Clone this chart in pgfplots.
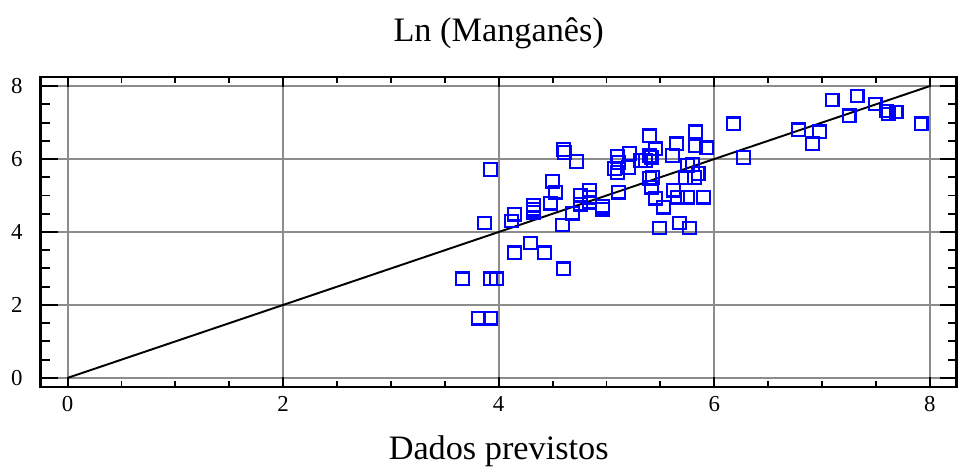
\documentclass[border=0pt]{standalone}
\usepackage{pgfplots}
\pgfplotsset{compat=1.18}
\usepackage{fontspec}
\setmainfont{Liberation Serif}
\definecolor{gridgray}{RGB}{140,140,140}
\begin{document}
\begin{tikzpicture}
\begin{axis}[
  scale only axis,
  width=18.32cm, height=6.2cm,
  xmin=-0.25, xmax=8.25, ymin=-0.25, ymax=8.25,
  xtick={0,2,4,6,8}, ytick={0,2,4,6,8},
  minor x tick num=3, minor y tick num=3,
  tick align=inside,
  grid=major,
  major grid style={gridgray, line width=1.1pt},
  axis line style={black, line width=1.4pt},
  every tick/.style={black, line width=1.1pt},
  xtick style={/pgfplots/major tick length=0.2cm, /pgfplots/minor tick length=0.12cm},
  ytick style={/pgfplots/major tick length=0.34cm, /pgfplots/minor tick length=0.18cm},
  /pgf/number format/assume math mode=true,
  ticklabel style={font=\fontsize{13}{15}\selectfont},
  xticklabel style={yshift=-0.07cm},
  yticklabel style={xshift=-0.24cm},
  title={Ln (Manganês)},
  title style={at={(axis description cs:0.5,1)}, anchor=base, yshift=0.494cm, font=\fontsize{19.5}{22}\selectfont},
  xlabel={Dados previstos},
  xlabel style={at={(axis description cs:0.5,0)}, anchor=base, yshift=-1.46cm, font=\fontsize{19.5}{22}\selectfont},
]
\addplot[black, line width=1.1pt] coordinates {(0,0) (8,8)};
\addplot[only marks, mark=square, mark size=0.125cm, mark options={blue, line width=1.3pt, fill=none}] table {
x y
3.664 2.721
3.813 1.633
3.924 1.633
3.924 2.721
3.980 2.721
3.868 4.245
3.924 5.714
4.119 4.299
4.147 4.490
4.147 3.429
4.295 3.701
4.425 3.429
4.601 2.993
4.323 4.735
4.323 4.626
4.323 4.544
4.481 4.789
4.499 5.388
4.527 5.088
4.592 4.190
4.610 6.177
4.601 6.259
4.685 4.517
4.722 5.932
4.759 5.007
4.759 4.762
4.842 5.143
4.842 4.952
4.842 4.816
4.963 4.707
4.963 4.626
5.102 6.068
5.111 5.905
5.074 5.741
5.102 5.633
5.111 5.088
5.204 5.769
5.213 6.150
5.315 5.959
5.362 5.959
5.399 6.639
5.455 6.286
5.399 6.095
5.417 6.041
5.427 5.497
5.399 5.469
5.417 5.224
5.455 4.925
5.492 4.109
5.529 4.680
5.612 6.095
5.649 6.422
5.622 5.143
5.659 4.952
5.677 4.245
5.733 5.497
5.751 5.823
5.798 5.850
5.751 4.952
5.770 4.109
5.816 5.497
5.853 5.605
5.826 6.748
5.826 6.367
5.928 6.313
5.900 4.952
6.178 6.966
6.271 6.041
6.781 6.803
6.911 6.422
6.976 6.748
7.096 7.619
7.254 7.184
7.328 7.728
7.495 7.510
7.597 7.320
7.616 7.238
7.690 7.293
7.922 6.966
};
\end{axis}
\path (current axis.south west) ++(-0.814cm,-1.72cm) rectangle ++(19.2cm,9.46cm);
\end{tikzpicture}
\end{document}
